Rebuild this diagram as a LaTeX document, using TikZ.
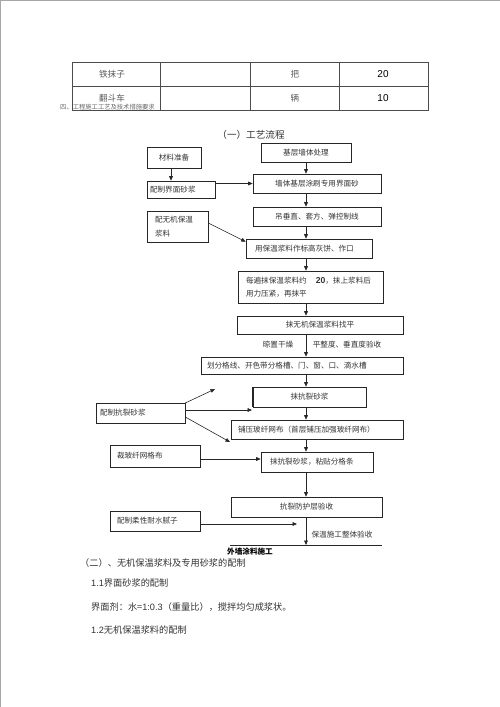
\documentclass[tikz,border=0pt]{standalone}
\usepackage{fontspec}
\setmainfont{Noto Sans CJK SC}
\newfontfamily\lat{Liberation Sans}
\usetikzlibrary{arrows.meta}
\newcommand{\fz}{\fontsize{7.6}{12}\selectfont}
\newcommand{\fb}{\fontsize{9.2}{12}\selectfont}
\begin{document}
\begin{tikzpicture}[x=1pt,y=-1pt,
 box/.style={draw=black!85, line width=0.6pt, inner sep=0pt, align=center, font=\fz, text=black!80},
 lbox/.style={draw=black!85, line width=0.6pt, inner ysep=0pt, align=left, font=\fz, text=black!80},
 arr/.style={line width=0.6pt, draw=black!85, -{Triangle[length=4.5pt,width=3.8pt]}},
 lbl/.style={inner sep=0pt, font=\fz, text=black!80},
 tbl/.style={draw=black!70, line width=0.7pt},
 cell/.style={inner sep=0pt, font=\fontsize{8.6}{10}\selectfont, text=black!65},
 num/.style={inner sep=0pt, font=\lat\fontsize{10}{12}\selectfont, text=black},
 body/.style={inner sep=0pt, anchor=west, font=\fb, text=black!80},
]
\useasboundingbox (0,0) rectangle (500,707);
\draw[black!35, line width=1.2pt] (0.6,707) -- (0.6,0.6) -- (500,0.6);

% table
\draw[tbl] (72,62) rectangle (428,110);
\draw[tbl] (72,86) -- (428,86);
\draw[tbl] (160,62) -- (160,110);
\draw[tbl] (250,62) -- (250,110);
\draw[tbl] (339,62) -- (339,110);
\node[cell] (c11) at (112,74) {铁抹子};
\node[cell] (c13) at (295,74) {把};
\node[num] (c14) at (383,74) {20};
\node[cell] (c21) at (112,98) {翻斗车};
\node[cell] (c23) at (295,98) {辆};
\node[num] (c24) at (383,98) {10};
\node[inner sep=0pt, anchor=west, font=\fontsize{6.3}{7}\selectfont, text=black!60] (cap) at (60,107.5) {四、工程施工工艺及技术措施要求};

% title
\node[inner sep=0pt, font=\fontsize{9.6}{12}\selectfont, text=black!80] (t1) at (251,135) {（一）工艺流程};

% flowchart boxes
\node[box, minimum width=54, minimum height=21] (cl) at (174,157.5) {材料准备};
\node[lbox, text width=62, inner xsep=3, minimum height=17] (jm) at (181,189.5) {配制界面砂浆};
\node[box, minimum width=90, minimum height=19] (jc) at (306,152.5) {基层墙体处理};
\node[box, minimum width=128, minimum height=19] (tj) at (317,183.5) {墙体基层涂刷专用界面砂};
\node[box, minimum width=128, minimum height=19] (dc) at (317,216.5) {吊垂直、套方、弹控制线};
\node[lbox, text width=45, inner xsep=8, minimum height=31, font=\fontsize{7.6}{14}\selectfont] (pw) at (177.5,226.5) {配无机保温\\浆料};
\node[lbox, text width=108, inner xsep=9, minimum height=19] (bg) at (309,248.5) {用保温浆料作标高灰饼、作口};
\node[lbox, text width=129, inner xsep=8, minimum height=32, font=\fontsize{7.6}{12.5}\selectfont] (mb) at (310.5,287)
  {每遍抹保温浆料约\hspace{9pt}{\lat\bfseries\fontsize{8.6}{10}\selectfont 20}，抹上浆料后\\用力压紧，再抹平};
\node[box, minimum width=166, minimum height=18] (zp) at (320,325) {抹无机保温浆料找平};
\node[lbox, text width=190, inner xsep=6, minimum height=17] (hf) at (302,365.5) {划分格线、开色带分格槽、门、窗、口、滴水槽};
\node[box, minimum width=113, minimum height=20] (mk) at (309.5,397) {抹抗裂砂浆};
\draw[black!85, line width=1.3pt] (mk.north west) -- (mk.south west);
\node[lbox, text width=81, inner xsep=4, minimum height=20] (pk) at (140.5,413) {配制抗裂砂浆};
\node[lbox, text width=158, inner xsep=7, minimum height=19] (yp) at (317,429.5) {铺压玻纤网布（首层铺压加强玻纤网布）};
\node[lbox, text width=76, inner xsep=7, minimum height=22] (cb) at (155,456) {裁玻纤网格布};
\node[lbox, text width=94, inner xsep=9, minimum height=20] (mn) at (317,462) {抹抗裂砂浆，粘贴分格条};
\node[box, minimum width=151, minimum height=20] (ys) at (306.5,507) {抗裂防护层验收};
\node[lbox, text width=76, inner xsep=7, minimum height=20] (nz) at (155,521) {配制柔性耐水腻子};

% coordinates
\coordinate (spine) at (306,140);
\coordinate (pkt) at (215,389);
\coordinate (pkm) at (252,410);
\coordinate (pkb) at (230,442);
\coordinate (nzt) at (297,524);
\coordinate (e1) at (230,545);
\coordinate (e2) at (382,545);

% arrows
\draw[arr] ([xshift=-3]cl.south) -- ([xshift=-3]cl.south |- jm.north);
\draw[arr] (jm.east |- tj.west) -- (tj.west);
\draw[arr] (spine |- jc.south) -- (spine |- tj.north);
\draw[arr] (spine |- tj.south) -- (spine |- dc.north);
\draw[arr] (spine |- dc.south) -- (spine |- bg.north);
\draw[arr] ([yshift=3.5]pw.east) -- ([yshift=-3]bg.north west);
\draw[arr] (spine |- bg.south) -- (spine |- mb.north);
\draw[arr] (spine |- mb.south) -- (spine |- zp.north);
\draw[arr] (spine |- zp.south) -- (spine |- hf.north);
\draw[arr] (spine |- hf.south) -- (spine |- mk.north);
\draw[arr] ([yshift=10]pk.east) -- (pkt);
\draw[arr] ([yshift=3]pk.east) -- (pkm);
\draw[arr] ([yshift=-4]pk.east) -- (pkb);
\draw[arr] (spine |- mk.south) -- (spine |- yp.north);
\draw[arr] (spine |- yp.south) -- (spine |- mn.north);
\draw[arr] ([yshift=-3]cb.east) -- ([yshift=-3]cb.east -| mn.west);
\draw[arr] (spine |- mn.south) -- (spine |- ys.north);
\draw[arr] ([yshift=-3]nz.east) -- (nzt);
\draw[black!85, line width=0.6pt] (e1) -- (e2);
\draw[arr] (spine |- ys.south) -- (spine |- e1);

% labels
\node[lbl] (l1) at (278,345) {晾置干燥};
\node[lbl] (l2) at (347,345) {平整度、垂直度验收};
\node[lbl] (l3) at (342,535) {保温施工整体验收};
\node[lbl, font=\fontsize{7.6}{10}\selectfont\bfseries, text=black] (l4) at (250,552) {外墙涂料施工};

% body text
\node[body] (p1) at (80,563) {（二）、无机保温浆料及专用砂浆的配制};
\node[body] (p2) at (91,583.5) {{\lat 1.1}界面砂浆的配制};
\node[body] (p3) at (91,607) {界面剂：水={\lat 1:0.3}（重量比），搅拌均匀成浆状。};
\node[body] (p4) at (91,630) {{\lat 1.2}无机保温浆料的配制};
\end{tikzpicture}
\end{document}
